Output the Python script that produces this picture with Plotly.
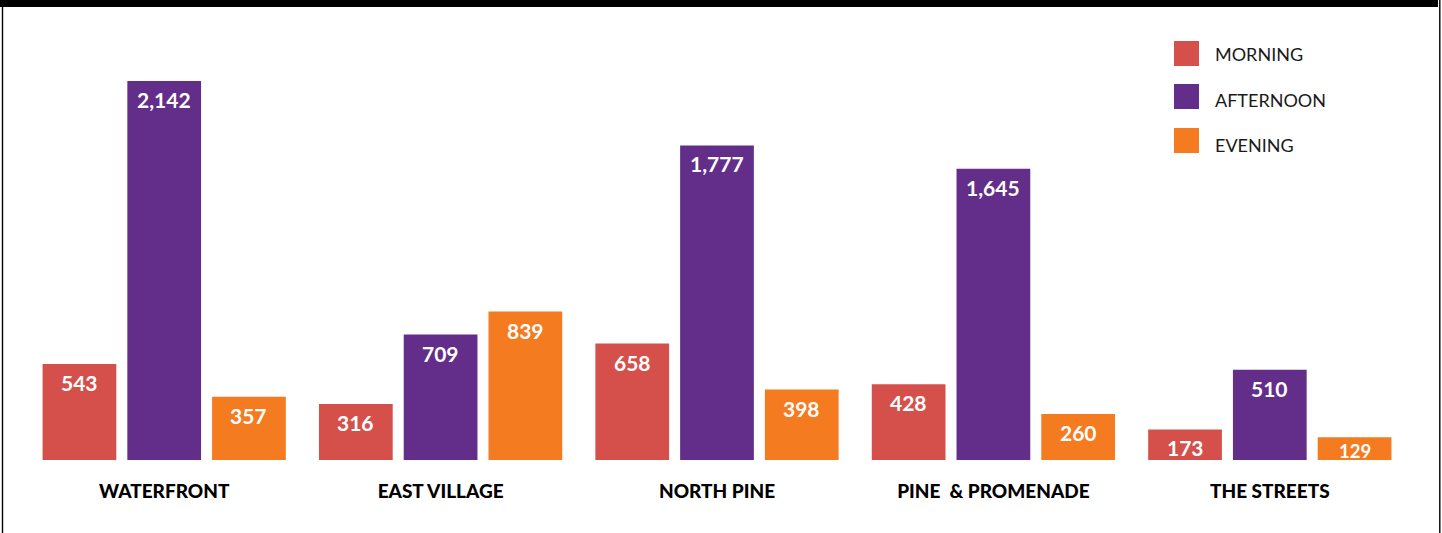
import plotly.graph_objects as go

# ---- data ----
categories = ["WATERFRONT", "EAST VILLAGE", "NORTH PINE", "PINE  & PROMENADE", "THE STREETS"]
series_names = ["MORNING", "AFTERNOON", "EVENING"]
morning = [543, 316, 658, 428, 173]
afternoon = [2142, 709, 1777, 1645, 510]
evening = [357, 839, 398, 260, 129]
series_values = [morning, afternoon, evening]
colors = ["#D5504A", "#632E8A", "#F47B20"]

W, H = 1442, 533
ML, MR, MT, MB = 26, 34, 20, 73
PW, PH = W - ML - MR, H - MT - MB
YMAX = 2486
BARGAP, GROUPGAP = 0.08, 0.13


def px_x(x):
    return (x - ML) / PW


def px_y(y):
    return (H - MB - y) / PH


fig = go.Figure()
for name, vals, col in zip(series_names, series_values, colors):
    fig.add_trace(go.Bar(
        x=categories, y=vals, name=name,
        marker=dict(color=col, line=dict(width=0)),
        hoverinfo="x+y+name",
        showlegend=False,
    ))

annotations = []
# value labels inside the bar tops
slot = PW / len(categories) * (1 - BARGAP) / len(series_names)
for si, vals in enumerate(series_values):
    offset = (si - (len(series_names) - 1) / 2) * slot
    for cat, v in zip(categories, vals):
        bar_px = v * PH / YMAX
        small = bar_px < 30
        annotations.append(dict(
            x=cat, y=v, xref="x", yref="y", xshift=offset,
            yanchor="top", yshift=(-0.5 if small else -4), showarrow=False,
            text=f"{v:,}",
            font=dict(family="Lato", size=(18.5 if small else 21), color="white", weight=700),
        ))

shapes = []
# frame: thick top bar, thin side lines
shapes.append(dict(type="rect", xref="paper", yref="paper",
                   x0=px_x(0), x1=px_x(1438), y0=px_y(7), y1=px_y(0),
                   fillcolor="black", line=dict(width=0), layer="above"))
for xl in (2.5, 1439.8):
    shapes.append(dict(type="line", xref="paper", yref="paper",
                       x0=px_x(xl), x1=px_x(xl), y0=px_y(0), y1=px_y(H),
                       line=dict(color="black", width=1.4)))

# custom legend
leg_sq_y = [53.5, 96.5, 140.5]
leg_tx_y = [54.5, 99.5, 144.5]
for name, col, cy, ty in zip(series_names, colors, leg_sq_y, leg_tx_y):
    shapes.append(dict(type="rect", xref="paper", yref="paper",
                       x0=px_x(1174), x1=px_x(1199), y0=px_y(cy + 12.5), y1=px_y(cy - 12.5),
                       fillcolor=col, line=dict(width=0)))
    annotations.append(dict(xref="paper", yref="paper", x=px_x(1213), y=px_y(ty),
                            xanchor="left", yanchor="middle", showarrow=False,
                            text=name,
                            font=dict(family="Lato", size=18, color="#1a1a1a", weight=400)))

fig.update_layout(
    width=W, height=H,
    margin=dict(l=ML, r=MR, t=MT, b=MB, pad=0),
    paper_bgcolor="white", plot_bgcolor="white",
    barmode="group", bargap=BARGAP, bargroupgap=GROUPGAP,
    shapes=shapes, annotations=annotations,
    xaxis=dict(showgrid=False, showline=False, zeroline=False, ticks="",
               tickfont=dict(family="Lato", size=19, color="black", weight=900),
               ticklabelstandoff=18),
    yaxis=dict(range=[0, YMAX], visible=False, showgrid=False, zeroline=False),
)

fig.write_html("out.html")
